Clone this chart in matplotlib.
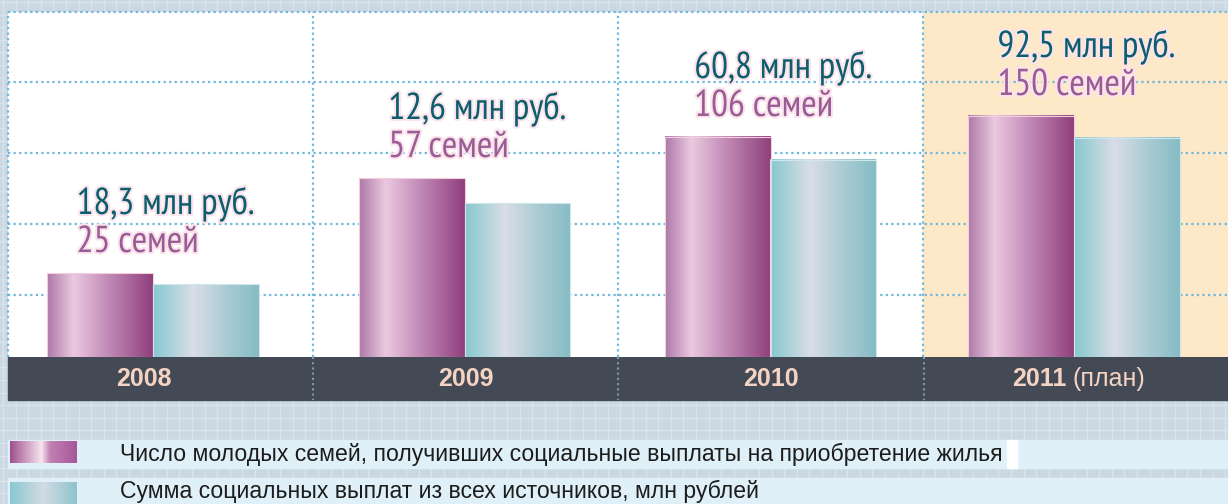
import numpy as np
import matplotlib
matplotlib.use('Agg')
import matplotlib.pyplot as plt
from matplotlib.colors import LinearSegmentedColormap
from matplotlib.patches import Rectangle
from matplotlib import patheffects

# data
years = ['2008', '2009', '2010', '2011']
year_notes = ['', '', '', '(план)']
money_labels = ['18,3 млн руб.', '12,6 млн руб.', '60,8 млн руб.', '92,5 млн руб.']
family_labels = ['25 семей', '57 семей', '106 семей', '150 семей']
# bar heights as drawn (the picture is not to scale)
bar_families = [84, 179, 220, 241]
bar_money = [73, 154, 197, 219]
legend_labels = ['Число молодых семей, получивших социальные выплаты на приобретение жилья',
                 'Сумма социальных выплат из всех источников, млн рублей']

label_font = ['PT Sans Narrow', 'Fira Sans Condensed', 'DejaVu Sans']
plain_font = ['Liberation Sans', 'DejaVu Sans']

purple_cmap = LinearSegmentedColormap.from_list('p', [(0, '#ad78a8'), (0.25, '#ebc9df'),
                                                      (0.55, '#c58fba'), (1, '#8f3f7d')])
cyan_cmap = LinearSegmentedColormap.from_list('c', [(0, '#86c8d0'), (0.38, '#d9dde6'),
                                                    (0.7, '#a9cbd3'), (1, '#86bcc5')])
purple_swatch = LinearSegmentedColormap.from_list('ps', [(0, '#9e4f8c'), (0.47, '#f6e6f0'),
                                                         (0.6, '#c27fb2'), (1, '#a4589a')])
cyan_swatch = LinearSegmentedColormap.from_list('cs', [(0, '#88c8d0'), (0.5, '#d3dbe4'),
                                                       (1, '#8cc4cc')])
grad = np.linspace(0, 1, 256).reshape(1, -1)

fig = plt.figure(figsize=(12.28, 5.04), dpi=100)
fig.patch.set_facecolor('#cbd8e3')

# background: grid texture, year band, legend
bg = fig.add_axes([0, 0, 1, 1])
bg.set_xlim(0, 1228)
bg.set_ylim(504, 0)
bg.axis('off')
for gx in np.arange(3, 1228, 12.6):
    bg.axvline(gx, color='#d8e3ec', lw=1, zorder=0)
for gy in np.arange(2, 504, 12.6):
    bg.axhline(gy, color='#d8e3ec', lw=1, zorder=0)

bg.add_patch(Rectangle((8, 357), 1220, 43, color='#434a55', zorder=1))
for k in range(1, 4):
    sx = 8 + k * 305.2
    bg.plot([sx, sx], [357, 400], ls=(0, (1, 1.5)), color='#7d9bb3', lw=1.5, zorder=2)

bg.add_patch(Rectangle((8, 440), 1220, 28, color='#dff0f9', zorder=1))
bg.add_patch(Rectangle((8, 478), 1220, 26, color='#dff0f9', zorder=1))
bg.add_patch(Rectangle((1007, 440), 10, 28, color='white', zorder=1))
for row, (cm, lab) in enumerate(zip([purple_swatch, cyan_swatch], legend_labels)):
    top = 441 + row * 41
    bg.imshow(grad, cmap=cm, aspect='auto', extent=(10, 77, top + 22, top), zorder=2)
    bg.text(120, 454 + row * 37, lab, fontsize=16.6, family=plain_font, color='#1c1c1c',
            va='center', ha='left', zorder=3)

# chart area
ax = fig.add_axes([8 / 1228, (504 - 357) / 504, 1220 / 1228, 345 / 504])
ax.set_facecolor('white')
ax.set_xlim(-0.5, 3.5)
ax.set_ylim(0, 345)
for s in ax.spines.values():
    s.set_visible(False)
ax.tick_params(which='both', length=0, labelbottom=False, labelleft=False)
ax.axvspan(2.5, 3.5, color='#fde8c8', zorder=0)

dot = dict(ls=(0, (1, 1.5)), color='#6db7db', lw=1.6)
ax.set_yticks([62, 133, 204, 275])
ax.grid(axis='y', zorder=1, **dot)
ax.set_xticks([0.5, 1.5, 2.5], minor=True)
ax.set_xticks([])
ax.grid(axis='x', which='minor', zorder=1, **dot)
ax.axhline(345, clip_on=False, zorder=1, **dot)
ax.axvline(-0.5, clip_on=False, zorder=1, **dot)

# small horizontal nudges of each group, as in the picture
shift = np.array([-0.025, -0.003, 0, -0.006])
x = np.arange(len(years)) + shift
w = 0.347
bars_p = ax.bar(x - w / 2, bar_families, w, color='none', edgecolor='#f2cddb', lw=0.8, zorder=3)
bars_c = ax.bar(x + w / 2, bar_money, w, color='none', edgecolor='#cfe6ea', lw=0.8, zorder=3)
for bars, cm in [(bars_p, purple_cmap), (bars_c, cyan_cmap)]:
    for b in bars:
        ax.imshow(grad, cmap=cm, aspect='auto', zorder=2,
                  extent=(b.get_x(), b.get_x() + b.get_width(), 0, b.get_height()))
ax.set_xlim(-0.5, 3.5)
ax.set_ylim(0, 345)

halo = [patheffects.withStroke(linewidth=3, foreground='#fbe3ec')]
for i in range(len(years)):
    lx = x[i] - 0.25
    base = bar_families[i] + 21
    ax.text(lx, base, family_labels[i], family=label_font, fontsize=27, color='#9a5c94',
            va='baseline', ha='left', path_effects=halo, zorder=4)
    ax.text(lx, base + 38, money_labels[i], family=label_font, fontsize=27, color='#0d5e6d',
            va='baseline', ha='left', path_effects=halo, zorder=4)

# year captions in the dark band
nudge = [-0.055, 0, 0, 0]
for i, (yr, note) in enumerate(zip(years, year_notes)):
    if note:
        ax.text(i - 0.03, -22, yr, fontsize=18, weight='bold', family=plain_font,
                color='#f5d3c2', ha='right', va='center', clip_on=False)
        ax.text(i - 0.01, -22, note, fontsize=18, family=plain_font,
                color='#f5d3c2', ha='left', va='center', clip_on=False)
    else:
        ax.text(i + nudge[i], -22, yr, fontsize=18, weight='bold', family=plain_font,
                color='#f5d3c2', ha='center', va='center', clip_on=False)

fig.savefig('out.png', dpi=100, facecolor=fig.get_facecolor())
